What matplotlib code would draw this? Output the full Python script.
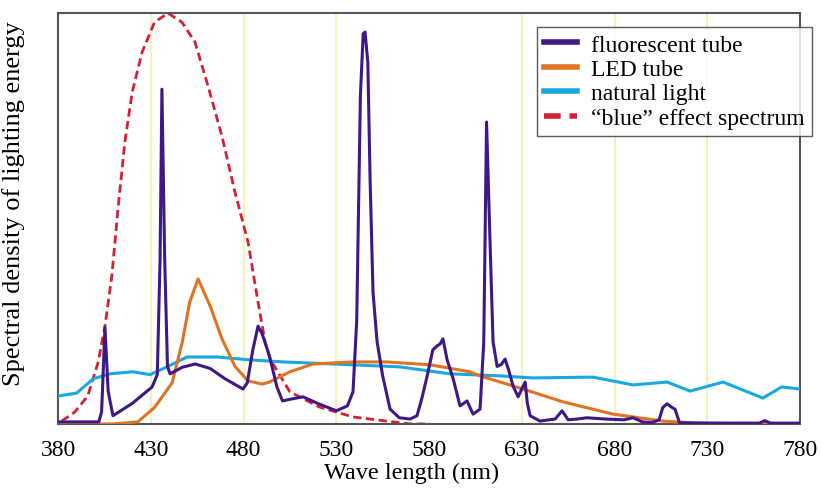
import matplotlib.pyplot as plt
import matplotlib as mpl
import numpy as np

mpl.rcParams['font.family'] = ['Liberation Serif', 'DejaVu Serif']

# wavelength (nm) / relative spectral density (0-100)
fluo_wl = [380, 402, 403.5, 405.3, 407, 409.6, 420, 430.7, 433.5, 435, 436, 437.5, 439, 440.4,
           447, 454, 462, 470, 479.7, 482, 485, 487.8, 490, 494, 498, 501, 505, 512, 520,
           530, 536, 539, 541, 543, 544.5, 545.5, 547, 548.2, 549.8, 552, 555, 559, 564,
           569.8, 573.5, 576, 579, 582, 584.3, 586, 587.5, 589.7, 593, 596.7, 600.5, 603.7,
           607.5, 609.5, 611, 612.5, 614.5, 616.7, 619, 621, 623, 625.3, 628, 630, 631.8,
           633, 634.5, 639.8, 648, 651.7, 655, 660, 665, 675, 685, 690, 695, 700, 704, 706,
           708.3, 711, 712.6, 715, 730, 758, 761, 764, 780]
fluo_val = [0.5, 0.5, 3, 23.5, 8, 2, 5, 9, 12, 40, 81.5, 40, 14, 12.2,
            13.8, 14.6, 13.5, 11, 8.5, 10, 18, 23.8, 22, 16.5, 9, 5.6, 6, 6.6, 5,
            3.2, 4.4, 7.8, 25, 80, 95, 95.4, 88, 60, 32, 20, 11.7, 3.6, 1.5,
            1.2, 2, 6, 11.7, 18, 19, 19.5, 20.7, 15.7, 11, 4.4, 5.6, 2.4,
            3.6, 20, 73.5, 50, 20, 14, 14.5, 15.8, 13, 9.2, 6.6, 8.5, 10.2,
            5, 2, 0.7, 1.2, 3.2, 1, 1.2, 1.5, 1.2, 1, 1.5, 0.5, 0.3, 1, 4,
            4.9, 4, 3.6, 0.3, 0.2, 0.2, 0.8, 0.2, 0.2]

led_wl = [380, 410, 423, 432, 441.5, 447, 451, 455.5, 462, 468.4, 475.4, 482.4, 490, 494,
          505, 517.5, 539, 557, 580.5, 602, 607.5, 630.7, 652, 679, 706, 724, 780]
led_val = [0, 0, 0.5, 4, 10, 20, 29.7, 35.3, 28.7, 20.7, 14, 10.5, 9.7, 10.2,
           12.7, 14.6, 15.1, 15.1, 14.4, 12.7, 11.7, 8.5, 5.4, 2.4, 0.7, 0.2, 0]

nat_wl = [380, 390, 399, 408, 420.4, 429.6, 438.8, 449.5, 465.7, 483.5, 501.3, 528, 564,
          591.3, 618.3, 636, 668.4, 690, 708.3, 720.7, 738.5, 760, 770, 780]
nat_val = [6.8, 7.5, 11, 12.2, 12.7, 12, 13.9, 16.3, 16.3, 15.6, 15.1, 14.6, 13.9,
           12.2, 11.7, 11.2, 11.4, 9.5, 10.2, 8, 10.2, 6.3, 9, 8.5]

blue_wl = [382, 389, 396, 401.6, 405.3, 409, 412.3, 416, 420, 425.3, 432, 439.3, 446.8,
           453.8, 460.9, 468.4, 475.4, 482.4, 487.8, 491.6, 494.3, 505, 521, 539, 569.8, 580]
blue_val = [0.7, 2.9, 6.8, 15, 23.8, 36, 52.3, 68.6, 80.8, 90.5, 97.8, 100, 97.8,
            93, 82.2, 70, 56.4, 44.3, 29.7, 20, 15.8, 7.8, 4.1, 1.7, 0, 0]

xticks = [380, 430, 480, 530, 580, 630, 680, 730, 780]
guide_lines = [430, 480, 530, 630, 680, 730]

fig = plt.figure(figsize=(8.22, 4.89), dpi=100)
ax = fig.add_axes([0.0706, 0.131, 0.9027, 0.840])

for g in guide_lines:
    ax.axvline(g, color='#f2f0a8', lw=1.2, zorder=0)

ax.plot(blue_wl, blue_val, color='#d42035', lw=2.0, dashes=(3, 1.6), zorder=2,
        label=u'\u201cblue\u201d effect spectrum')
ax.plot(nat_wl, nat_val, color='#1aa6df', lw=2.2, zorder=3, label='natural light')
ax.plot(led_wl, led_val, color='#e07323', lw=2.2, zorder=3, label='LED tube')
ax.plot(fluo_wl, fluo_val, color='#3f1888', lw=2.2, zorder=4, label='fluorescent tube')

ax.set_xlim(380, 780)
ax.set_ylim(0, 100)
ax.set_xticks(xticks)
ax.set_yticks([])
ax.tick_params(axis='x', length=0, pad=11, labelsize=17)
for s in ax.spines.values():
    s.set_color('#555555')
    s.set_linewidth(1.5)

ax.set_xlabel('Wave length (nm)', fontsize=17.5)
ax.xaxis.set_label_coords(0.476, -0.093)
ax.set_ylabel('Spectral density of lighting energy', fontsize=19)
ax.yaxis.set_label_coords(-0.045, 0.54)

h, l = ax.get_legend_handles_labels()
order = [3, 2, 1, 0]
leg = ax.legend([h[i] for i in order], [l[i] for i in order], loc='upper right',
                bbox_to_anchor=(1.016, 0.966), fontsize=17, frameon=True, fancybox=False,
                borderpad=0.3, labelspacing=0.12, handlelength=1.4, handletextpad=0.6,
                borderaxespad=0)
leg.get_frame().set_edgecolor('#333333')
leg.get_frame().set_linewidth(1.0)
for line in leg.get_lines():
    line.set_linewidth(4)

fig.savefig('out.png', dpi=100)
